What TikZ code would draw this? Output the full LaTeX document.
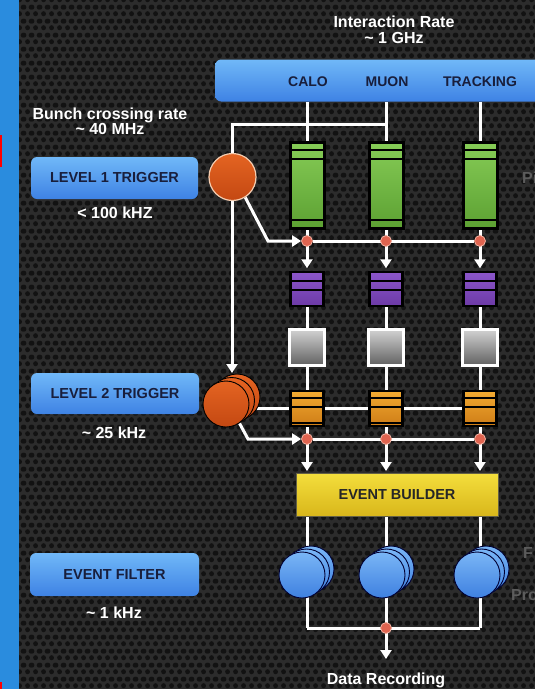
\documentclass[tikz,border=0pt]{standalone}
\usepackage{fontspec}
\setmainfont{Liberation Sans}
\usetikzlibrary{arrows.meta,patterns}

\pgfdeclarepatternformonly{hexdots}{\pgfqpoint{0pt}{0pt}}{\pgfqpoint{8pt}{14pt}}{\pgfqpoint{8pt}{14pt}}{%
  \pgfpathcircle{\pgfqpoint{4pt}{3.5pt}}{2.7pt}%
  \pgfpathcircle{\pgfqpoint{0pt}{10.5pt}}{2.7pt}%
  \pgfpathcircle{\pgfqpoint{8pt}{10.5pt}}{2.7pt}%
  \pgfusepath{fill}}

\definecolor{bgcol}{RGB}{44,44,44}
\definecolor{dotcol}{RGB}{18,18,18}
\definecolor{stripblue}{RGB}{42,140,222}
\definecolor{boxtop}{RGB}{112,184,248}
\definecolor{boxbot}{RGB}{62,130,228}
\definecolor{navytext}{RGB}{24,30,60}
\definecolor{greentop}{RGB}{134,204,86}
\definecolor{greenbot}{RGB}{92,160,50}
\definecolor{purtop}{RGB}{140,86,202}
\definecolor{purbot}{RGB}{108,58,166}
\definecolor{graytop}{RGB}{210,210,210}
\definecolor{graybot}{RGB}{96,96,96}
\definecolor{ortop}{RGB}{242,170,50}
\definecolor{orbot}{RGB}{206,124,22}
\definecolor{ebtop}{RGB}{244,222,60}
\definecolor{ebbot}{RGB}{216,182,26}
\definecolor{redtop}{RGB}{228,100,34}
\definecolor{redbot}{RGB}{196,72,18}
\definecolor{redrim}{RGB}{245,205,176}
\definecolor{ftop}{RGB}{122,182,246}
\definecolor{fbot}{RGB}{62,128,224}
\definecolor{dotred}{RGB}{224,100,80}
\definecolor{dotrim}{RGB}{240,176,160}
\definecolor{fainttext}{RGB}{92,92,92}

\pgfdeclarelayer{bg}
\pgfdeclarelayer{wires}
\pgfsetlayers{bg,wires,main}

\tikzset{
  wlabel/.style={text=white, font=\fontsize{16}{18}\selectfont\bfseries, anchor=base, inner sep=0pt},
  flabel/.style={text=fainttext, font=\fontsize{16}{18}\selectfont\bfseries, anchor=base west, inner sep=0pt},
  clabel/.style={text=navytext, font=\fontsize{14}{16}\selectfont\bfseries, inner sep=0pt},
  bluebox/.style={rounded corners=6pt, top color=boxtop, bottom color=boxbot, draw=none,
     text=navytext, font=\fontsize{14.5}{16}\selectfont\bfseries, inner sep=0pt},
  greenbox/.style={draw=black, line width=3pt, top color=greentop, bottom color=greenbot,
     minimum width=34pt, minimum height=86pt, inner sep=0pt},
  purplebox/.style={draw=black, line width=2.5pt, top color=purtop, bottom color=purbot,
     minimum width=33pt, minimum height=34pt, inner sep=0pt},
  graybox/.style={draw=white, line width=3pt, top color=graytop, bottom color=graybot,
     minimum width=35pt, minimum height=36pt, inner sep=0pt},
  orangebox/.style={draw=black, line width=2.5pt, top color=ortop, bottom color=orbot,
     minimum width=33pt, minimum height=35pt, inner sep=0pt},
  ebbox/.style={draw=black!70!yellow, line width=1pt, top color=ebtop, bottom color=ebbot,
     minimum width=202pt, minimum height=43pt, inner sep=0pt,
     text=black!85, font=\fontsize{14.5}{16}\selectfont\bfseries},
  sepline/.style={black, line width=2.2pt},
  l1circ/.style={circle, draw=redrim, line width=1.2pt, top color=redtop, bottom color=redbot,
     minimum size=47pt, inner sep=0pt},
  l2circ/.style={circle, draw=black, line width=0.9pt, top color=redtop, bottom color=redbot,
     minimum size=46pt, inner sep=0pt},
  fcirc/.style={circle, draw=black!80!blue, line width=0.9pt, top color=ftop, bottom color=fbot,
     minimum size=46pt, inner sep=0pt},
  rdot/.style={circle, draw=dotrim, line width=0.8pt, fill=dotred, minimum size=11pt, inner sep=0pt},
  wire/.style={white, line width=3pt},
  arr/.style={wire, -{Triangle[length=9pt,width=11pt]}},
}

\begin{document}
\begin{tikzpicture}[x=1pt,y=-1pt]
\useasboundingbox (0,0) rectangle (535,689);

\begin{pgfonlayer}{bg}
  \fill[bgcol] (18.5,0) rectangle (535,689);
  \fill[pattern=hexdots, pattern color=dotcol] (18.5,0) rectangle (535,689);
  \fill[stripblue] (0,0) rectangle (18.5,689);
  \fill[red] (0,135) rectangle (2,167);
  \fill[red] (0,682) rectangle (2,689);
\end{pgfonlayer}

% top texts
\node[wlabel] (irate) at (394,27) {Interaction Rate};
\node[wlabel] (ighz) at (394,43) {\textasciitilde{} 1 GHz};
\node[wlabel] (bcr) at (110,119) {Bunch crossing rate};
\node[wlabel] (bmhz) at (110,134) {\textasciitilde{} 40 MHz};

% top bar
\node[bluebox, minimum width=330pt, minimum height=42pt, anchor=west] (bar) at (215,80.5) {};
\node[clabel] (calo) at (308,82) {CALO};
\node[clabel] (muon) at (387,82) {MUON};
\node[clabel] (trk) at (480,82) {TRACKING};

% left boxes
\node[bluebox, minimum width=167pt, minimum height=42pt] (L1box) at (114.5,178) {LEVEL 1 TRIGGER};
\node[wlabel] (l1rate) at (115,218) {< 100 kHZ};
\node[bluebox, minimum width=168pt, minimum height=41pt] (L2box) at (115,393.5) {LEVEL 2 TRIGGER};
\node[wlabel] (l2rate) at (114,438) {\textasciitilde{} 25 kHz};
\node[bluebox, minimum width=169pt, minimum height=43pt] (EFbox) at (114.5,574.5) {EVENT FILTER};
\node[wlabel] (efrate) at (114,618) {\textasciitilde{} 1 kHz};

% faint cut-off texts
\node[flabel] (fa) at (522,183) {Pi};
\node[flabel] (fb) at (523,558) {F};
\node[flabel] (fc) at (511,600) {Pro};

% column boxes
\foreach \cx/\i in {307/1,386/2,480/3}{
  \node[greenbox] (g\i) at (\cx,185.5) {};
  \draw[sepline] (\cx-16,150) -- (\cx+16,150);
  \draw[sepline] (\cx-16,159) -- (\cx+16,159);
  \draw[sepline] (\cx-16,220) -- (\cx+16,220);
  \node[purplebox] (p\i) at (\cx,289) {};
  \draw[sepline] (\cx-15.5,281) -- (\cx+15.5,281);
  \draw[sepline] (\cx-15.5,290) -- (\cx+15.5,290);
  \node[graybox] (q\i) at (\cx,347.5) {};
  \node[orangebox] (o\i) at (\cx,408.5) {};
  \draw[sepline] (\cx-15.5,398) -- (\cx+15.5,398);
  \draw[sepline] (\cx-15.5,407) -- (\cx+15.5,407);
  \draw[sepline] (\cx-15.5,423) -- (\cx+15.5,423);
}

% event builder
\node[ebbox] (eb) at (397,495) {EVENT BUILDER};

% trigger circles
\node[l1circ] (L1c) at (232.5,177) {};
\node[l2circ] (L2a) at (237,397) {};
\node[l2circ] (L2b) at (231.5,400.5) {};
\node[l2circ] (L2c) at (226,404) {};

% filter circles
\foreach \fx/\i in {302/1,382/2,477/3}{
  \node[fcirc] (f\i a) at (\fx+9,569) {};
  \node[fcirc] (f\i b) at (\fx+4.5,572) {};
  \node[fcirc] (f\i c) at (\fx,575) {};
}

% junction dots
\foreach \i in {1,2,3}{
  \node[rdot] (d1\i) at (g\i |- 0,241) {};
  \node[rdot] (d2\i) at (o\i |- 0,439) {};
}
\node[rdot] (d3) at (386,628) {};
\node[wlabel] (drec) at (386,684) {Data Recording};

% coordinates for bends
\coordinate (jm) at (386,124);
\coordinate (jl) at (232,124);
\coordinate (l2in) at (232,373);
\coordinate (b1) at (268,241);
\coordinate (h2) at (245,408);
\coordinate (b2) at (248,439);
\coordinate (recin) at (386,659);

\begin{pgfonlayer}{wires}
  \foreach \i in {1,2,3}{
    \draw[wire] (g\i |- bar.south) -- (g\i.north);
    \draw[wire] (g\i.south) -- (d1\i.center);
    \draw[arr, shorten >=2.5pt] (d1\i.center) -- (p\i.north);
    \draw[wire] (p\i.south) -- (q\i.north);
    \draw[wire] (q\i.south) -- (o\i.north);
    \draw[wire] (o\i.south) -- (d2\i.center);
    \draw[arr, shorten >=2pt] (d2\i.center) -- (d2\i |- eb.north);
    \draw[wire] (g\i |- eb.south) -- (g\i |- d3);
  }
  \draw[arr] (jm) -- (jl) -- (l2in);
  \draw[arr] (L1c.-58) -- (b1) -- (d11.west);
  \draw[wire] (d11) -- (d13);
  \draw[wire] (h2) -- (o3 |- h2);
  \draw[arr] (L2c.-55) -- (b2) -- (d21.west);
  \draw[wire] (d21) -- (d23);
  \draw[wire] (g1 |- d3) -- (g3 |- d3);
  \draw[arr] (d3.center) -- (recin);
\end{pgfonlayer}
\end{tikzpicture}
\end{document}
